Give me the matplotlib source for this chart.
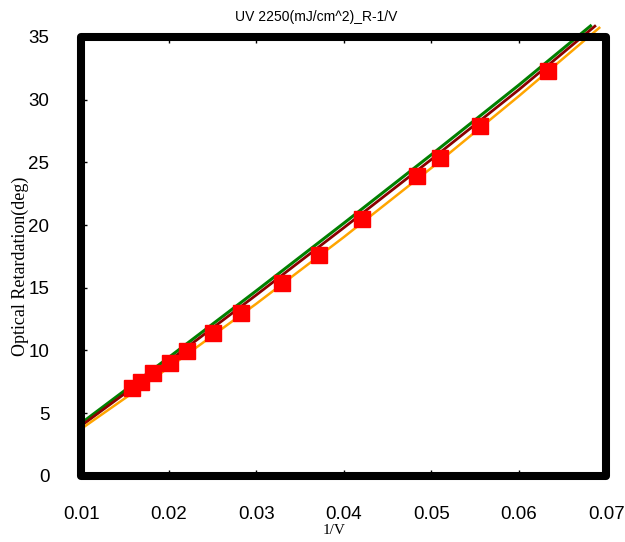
import numpy as np
import matplotlib.pyplot as plt
from matplotlib.patches import Rectangle

# measured points (1/V, retardation in deg)
inv_v = [0.0158, 0.0168, 0.0182, 0.0202, 0.0221, 0.0251, 0.0283,
         0.0329, 0.0372, 0.0421, 0.0484, 0.0510, 0.0556, 0.0633]
retard = [7.00, 7.50, 8.20, 9.02, 9.98, 11.42, 13.02,
          15.35, 17.58, 20.45, 23.88, 25.38, 27.92, 32.24]

# trend curves
green_x = [0.01, 0.02, 0.03, 0.04, 0.05, 0.06, 0.0682]
green_y = [4.20, 9.44, 14.75, 20.14, 25.60, 31.15, 35.87]
red_x = [0.01, 0.02, 0.03, 0.04, 0.05, 0.06, 0.0687]
red_y = [4.00, 9.15, 14.42, 19.78, 25.22, 30.78, 35.85]
orange_x = [0.01, 0.02, 0.03, 0.04, 0.05, 0.06, 0.0692]
orange_y = [3.75, 8.63, 13.72, 19.03, 24.54, 30.27, 35.72]

fig = plt.figure(figsize=(6.25, 5.42), dpi=100)
ax = fig.add_axes([0.130, 0.122, 0.840, 0.810])

ax.plot(green_x, green_y, color='green', lw=2.2, clip_on=False, zorder=3)
ax.plot(red_x, red_y, color='#8b0000', lw=2.0, clip_on=False, zorder=3)
ax.plot(orange_x, orange_y, color='orange', lw=1.8, clip_on=False, zorder=3)
ax.plot(inv_v, retard, 's', color='red', ms=11, mec='red', zorder=4)

ax.set_xlim(0.01, 0.07)
ax.set_ylim(0, 35)
ax.set_xticks(np.arange(0.01, 0.0701, 0.01))
ax.set_xticklabels(['0.01', '0.02', '0.03', '0.04', '0.05', '0.06', '0.07'])
ax.set_yticks(range(0, 36, 5))

# thick frame with rounded corners
for s in ax.spines.values():
    s.set_visible(False)
ax.add_patch(Rectangle((0, 0), 1, 1, transform=ax.transAxes, fill=False,
                       ec='black', lw=5.8, joinstyle='round',
                       clip_on=False, zorder=5))

ax.tick_params(axis='x', direction='in', length=4, width=1, top=True,
               labelsize=13.5, pad=22)
ax.tick_params(axis='y', direction='in', length=4, width=1,
               labelsize=13.5, pad=23)
for lab in ax.get_xticklabels() + ax.get_yticklabels():
    lab.set_family('Liberation Sans')

fig.text(0.506, 0.968, 'UV 2250(mJ/cm^2)_R-1/V', ha='center', va='center',
         fontsize=10, family='Liberation Sans')
fig.text(0.534, 0.021, '1/V', ha='center', va='center',
         fontsize=11, family='Liberation Serif')
fig.text(0.032, 0.508, 'Optical Retardation(deg)', ha='center', va='center',
         rotation=90, fontsize=13, family='Liberation Serif')

fig.savefig('out.png', dpi=100)
